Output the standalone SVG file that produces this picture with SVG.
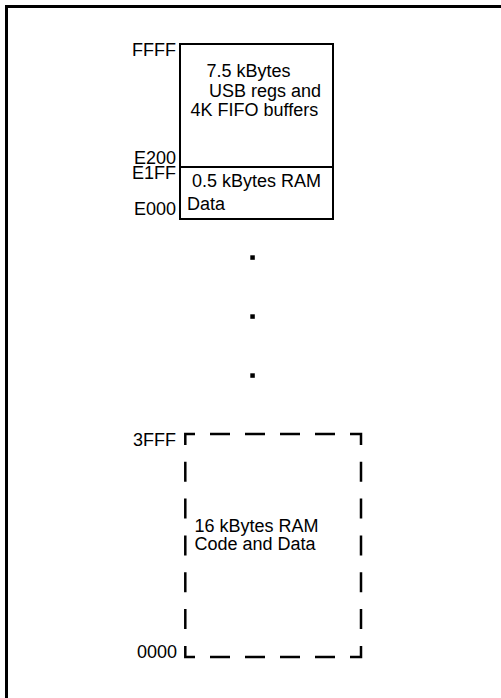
<svg xmlns="http://www.w3.org/2000/svg" width="501" height="698" viewBox="0 0 501 698">
<style>
text{font-family:"Liberation Sans",Arial,sans-serif;font-size:18px;fill:#000}
.addr{text-anchor:end}
.solid{fill:none;stroke:#000;stroke-width:2}
.dash{fill:none;stroke:#000;stroke-width:2.5}
</style>
<rect width="501" height="698" fill="#fff"/>
<rect x="6.5" y="6.5" width="520" height="720" fill="none" stroke="#000" stroke-width="3"/>
<g id="usb-region">
<rect class="solid" x="180" y="44" width="153" height="123"/>
<text x="206.5" y="76.5">7.5 kBytes</text>
<text x="209" y="96.5">USB regs and</text>
<text x="190.5" y="116">4K FIFO buffers</text>
</g>
<g id="ram-data-region">
<rect class="solid" x="180" y="167" width="153" height="52"/>
<text x="192" y="187">0.5 kBytes RAM</text>
<text x="187" y="209.5">Data</text>
</g>
<g id="addresses-top">
<text class="addr" x="176" y="55.5">FFFF</text>
<text class="addr" x="176" y="163.5">E200</text>
<text class="addr" x="176" y="178.5">E1FF</text>
<text class="addr" x="176" y="215">E000</text>
</g>
<g id="ellipsis">
<rect x="250.3" y="255.3" width="4.5" height="4.5"/>
<rect x="250.3" y="314.3" width="4.5" height="4.5"/>
<rect x="250.3" y="373.3" width="4.5" height="4.5"/>
</g>
<g id="ram-code-region">
<path class="dash" d="M185.3,445 V434 H195 M210,434 H230 M245,434 H265 M280,434 H300 M315,434 H335 M350,434 H361 V445 M361,461.8 V481.8 M361,498.6 V518.6 M361,535.4 V555.4 M361,572.2 V592.2 M361,609 V629 M361,646 V657 H350 M335,657 H315 M300,657 H280 M265,657 H245 M230,657 H210 M195,657 H185.3 V646 M185.3,629 V609 M185.3,592.2 V572.2 M185.3,555.4 V535.4 M185.3,518.6 V498.6 M185.3,481.8 V461.8"/>
<text x="194.5" y="531.5">16 kBytes RAM</text>
<text x="194.5" y="549.5">Code and Data</text>
</g>
<g id="addresses-bottom">
<text class="addr" x="176" y="446">3FFF</text>
<text class="addr" x="177" y="658">0000</text>
</g>
</svg>
